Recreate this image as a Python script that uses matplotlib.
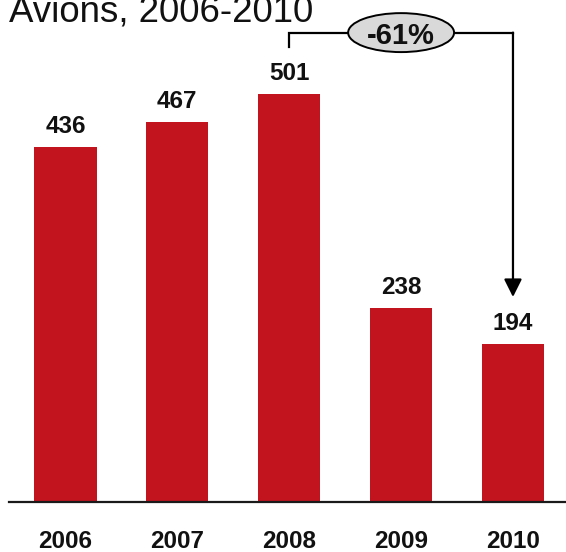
import matplotlib
matplotlib.use("Agg")
import matplotlib.pyplot as plt
from matplotlib.patches import Ellipse

plt.rcParams['font.family'] = ['Liberation Sans', 'DejaVu Sans']

# Data
years = ["2006", "2007", "2008", "2009", "2010"]
values = [436, 467, 501, 238, 194]
title = "Avions, 2006-2010"

BAR_COLOR = "#C1141F"
W, H, DPI = 566, 552, 100

fig = plt.figure(figsize=(W / DPI, H / DPI), dpi=DPI)
ax = fig.add_axes([9 / W, 50 / H, 557 / W, 502 / H])

x = list(range(len(values)))
ax.bar(x, values, width=0.555, color=BAR_COLOR, zorder=2)

ax.set_xlim(-0.505, 4.474)
ax.set_ylim(0, 502 / 0.8135)

for side in ("top", "right", "left"):
    ax.spines[side].set_visible(False)
ax.spines["bottom"].set_linewidth(1.6)
ax.spines["bottom"].set_color("#1a1a1a")
ax.set_xticks([])
ax.set_yticks([])

# Value labels above bars
for xi, v in zip(x, values):
    ax.annotate(f"{v}", xy=(xi, v), xytext=(0, 10.1), textcoords="offset points",
                ha="center", va="baseline", fontsize=17.5, fontweight="bold",
                color="#111111")

# Year labels under the axis
for xi, yr in zip(x, years):
    ax.annotate(yr, xy=(xi, 0), xytext=(0, -33.2), textcoords="offset points",
                ha="center", va="baseline", fontsize=17.5, fontweight="bold",
                color="#111111", annotation_clip=False)

# Title
fig.text(9 / W, 1 - 22 / H, title, ha="left", va="baseline", fontsize=26.4,
         color="#111111")

# Change bracket from peak (2008) to last year (2010)
i0, i1 = 2, 4
gap = 58
top = max(values[i0], values[i1]) + 76
ax.plot([i0, i0, i1], [values[i0] + gap, top, top], color="black", lw=1.6,
        clip_on=False, zorder=3, solid_joinstyle="miter")
ax.annotate("", xy=(i1, values[i1] + gap), xytext=(i1, top),
            arrowprops=dict(arrowstyle="-|>,head_length=0.6,head_width=0.3",
                            mutation_scale=18, lw=1.6, color="black",
                            shrinkA=0, shrinkB=0),
            annotation_clip=False, zorder=3)

change = (values[i1] - values[i0]) / values[i0] * 100
cx = (i0 + i1) / 2
ell = Ellipse((cx, top), width=0.947, height=47.9, facecolor="#D9D9D9",
              edgecolor="black", lw=1.4, clip_on=False, zorder=4)
ax.add_patch(ell)
ax.text(cx, top, f"{change:.0f}%", ha="center", va="center_baseline",
        fontsize=21, fontweight="bold", color="#111111", zorder=5)

fig.savefig("out.png", dpi=DPI)
